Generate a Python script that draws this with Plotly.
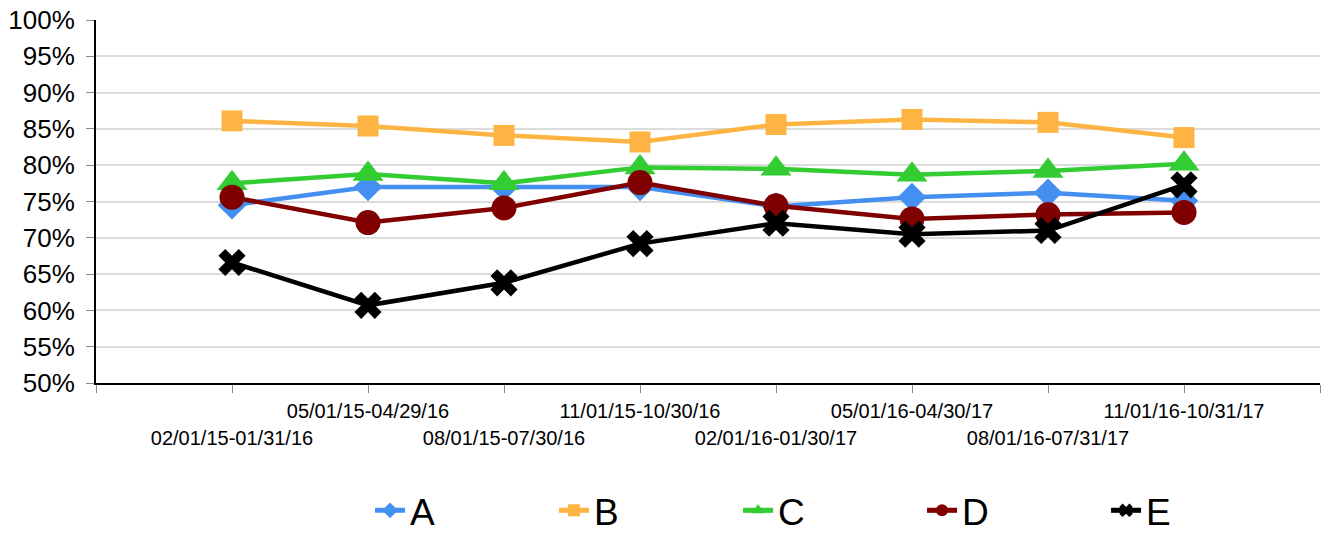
import plotly.graph_objects as go

# periods on the x axis
periods = ["02/01/15-01/31/16", "05/01/15-04/29/16", "08/01/15-07/30/16",
           "11/01/15-10/30/16", "02/01/16-01/30/17", "05/01/16-04/30/17",
           "08/01/16-07/31/17", "11/01/16-10/31/17"]

# series values (percent)
a_vals = [74.5, 77.0, 77.0, 77.0, 74.3, 75.6, 76.2, 75.1]
b_vals = [86.1, 85.4, 84.1, 83.2, 85.6, 86.3, 85.9, 83.8]
c_vals = [77.5, 78.8, 77.5, 79.7, 79.5, 78.7, 79.2, 80.2]
d_vals = [75.6, 72.1, 74.1, 77.6, 74.4, 72.6, 73.2, 73.5]
e_vals = [66.6, 60.7, 63.8, 69.2, 72.0, 70.5, 71.0, 77.3]

names = ["A", "B", "C", "D", "E"]
colors = ["#458ff0", "#fdb443", "#33cc33", "#800000", "#000000"]
symbols = ["diamond", "square", "triangle-up", "circle", "x"]
sizes = [22, 21, 27, 25, 24]

idx = list(range(len(periods)))
FONT = "Liberation Sans, Arial, sans-serif"

fig = go.Figure()
for name, vals, col, sym, sz in zip(names, [a_vals, b_vals, c_vals, d_vals, e_vals],
                                    colors, symbols, sizes):
    fig.add_trace(go.Scatter(
        x=idx, y=[v / 100 for v in vals], name=name, mode="lines+markers",
        line=dict(color=col, width=4.5),
        marker=dict(symbol=sym, size=sz, color=col, line=dict(width=0)),
    ))

# invisible trace to hold second (staggered) tick row
fig.add_trace(go.Scatter(x=idx, y=[None] * len(idx), xaxis="x2",
                         showlegend=False, hoverinfo="skip"))

lower = [i for i in idx if i % 2 == 0]
all_ticks = [-1] + idx + [len(idx)]

fig.update_layout(
    width=1322, height=533,
    margin=dict(l=96, r=2, t=20, b=150, autoexpand=False),
    plot_bgcolor="white", paper_bgcolor="white",
    font=dict(family=FONT, color="black"),
    xaxis=dict(
        range=[-1, len(idx)], tickmode="array",
        tickvals=all_ticks,
        ticktext=[periods[i] if (0 <= i < len(idx) and i % 2 == 1) else "" for i in all_ticks],
        tickfont=dict(size=20), ticks="outside", ticklen=8, tickcolor="#888888",
        tickwidth=1, showgrid=False, showline=True, linecolor="black", linewidth=2,
        zeroline=False, ticklabelstandoff=1, automargin=False,
        ticklabeloverflow="allow",
    ),
    xaxis2=dict(
        range=[-1, len(idx)], overlaying="x", side="bottom", matches="x",
        tickmode="array", tickvals=lower, ticktext=[periods[i] for i in lower],
        tickfont=dict(size=20), ticks="", showgrid=False, showline=False,
        zeroline=False, ticklabelstandoff=41, automargin=False,
        ticklabeloverflow="allow",
    ),
    yaxis=dict(
        range=[0.5, 1.0], tickmode="array",
        tickvals=[0.5 + 0.05 * k for k in range(11)], tickformat=".0%",
        tickfont=dict(size=26), ticks="outside", ticklen=8, tickcolor="#888888",
        showgrid=True, gridcolor="#dcdcdc", gridwidth=2, ticklabelstandoff=6,
        showline=True, linecolor="black", linewidth=2, zeroline=False,
        automargin=False, ticklabeloverflow="allow",
    ),
    legend=dict(
        orientation="h", xref="paper", yref="paper",
        x=0.2239, xanchor="left", y=-0.352, yanchor="middle",
        font=dict(size=37), entrywidth=139, itemsizing="constant",
    ),
)

# drop the default 8px body margin so the figure fills the window
fig.write_html("out.html", config={"displayModeBar": False},
               post_script="document.body.style.margin='0';")
